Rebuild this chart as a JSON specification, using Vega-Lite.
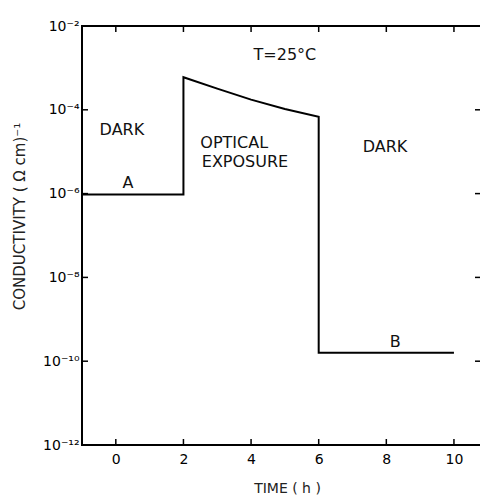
{
  "$schema": "https://vega.github.io/schema/vega-lite/v6.json",
  "autosize": "none",
  "width": 399,
  "height": 419,
  "padding": {"left": 82, "top": 26, "right": 0, "bottom": 53},
  "background": "white",
  "config": {
    "view": {"stroke": "black", "strokeWidth": 2},
    "font": "DejaVu Sans",
    "axis": {"labelColor": "black", "titleColor": "#222", "grid": false, "labelFont": "DejaVu Sans", "titleFont": "DejaVu Sans", "titleFontWeight": "normal"}
  },
  "datasets": {
    "curve": [
      {"i": 1, "time": -1, "sigma": 9.5e-7},
      {"i": 2, "time": 2, "sigma": 9.5e-7},
      {"i": 3, "time": 2, "sigma": 6e-4},
      {"i": 4, "time": 3, "sigma": 3.2e-4},
      {"i": 5, "time": 4, "sigma": 1.75e-4},
      {"i": 6, "time": 5, "sigma": 1.05e-4},
      {"i": 7, "time": 6, "sigma": 6.8e-5},
      {"i": 8, "time": 6, "sigma": 1.6e-10},
      {"i": 9, "time": 10, "sigma": 1.6e-10}
    ],
    "notes": [
      {"label": "DARK", "time": 0.18, "sigma": 3.3e-5},
      {"label": "A", "time": 0.36, "sigma": 1.8e-6},
      {"label": "OPTICAL", "time": 3.5, "sigma": 1.6e-5},
      {"label": "EXPOSURE", "time": 3.82, "sigma": 5.8e-6},
      {"label": "DARK", "time": 7.96, "sigma": 1.26e-5},
      {"label": "T=25°C", "time": 5.0, "sigma": 2.0e-3},
      {"label": "B", "time": 8.26, "sigma": 2.8e-10}
    ],
    "xticks": [{"time": 0}, {"time": 2}, {"time": 4}, {"time": 6}, {"time": 8}, {"time": 10}],
    "yticks": [{"sigma": 1e-10}, {"sigma": 1e-8}, {"sigma": 1e-6}, {"sigma": 1e-4}]
  },
  "layer": [
    {
      "data": {"name": "curve"},
      "mark": {"type": "line", "color": "black", "strokeWidth": 2, "clip": true},
      "encoding": {
        "x": {"field": "time", "type": "quantitative", "scale": {"domain": [-1, 10.8], "nice": false, "zero": false},
          "axis": {"orient": "bottom", "values": [0, 2, 4, 6, 8, 10], "domain": false, "ticks": false, "labelPadding": 7, "labelFontSize": 14, "title": "TIME ( h )", "titleFontSize": 14, "titleX": 205, "titleY": 43, "titleAlign": "center", "titleBaseline": "middle"}},
        "y": {"field": "sigma", "type": "quantitative", "scale": {"type": "log", "domain": [1e-12, 1e-2], "nice": false},
          "axis": {"orient": "left", "values": [1e-12, 1e-10, 1e-8, 1e-6, 1e-4, 1e-2], "domain": false, "ticks": false, "labelPadding": 3, "labelFontSize": 14,
            "labelExpr": "'10' + (datum.value < 5e-12 ? '⁻¹²' : datum.value < 5e-10 ? '⁻¹⁰' : datum.value < 5e-8 ? '⁻⁸' : datum.value < 5e-6 ? '⁻⁶' : datum.value < 5e-4 ? '⁻⁴' : '⁻²')",
            "title": "CONDUCTIVITY ( Ω cm)⁻¹", "titleFontSize": 15, "titleX": -63, "titleY": 190, "titleAngle": -90, "titleAlign": "center", "titleBaseline": "middle"}},
        "order": {"field": "i", "type": "quantitative"}
      }
    },
    {
      "data": {"name": "xticks"},
      "mark": {"type": "tick", "orient": "vertical", "size": 12, "thickness": 1.5, "color": "black", "opacity": 1, "clip": true},
      "encoding": {
        "x": {"field": "time", "type": "quantitative"},
        "y": {"datum": 1e-12}
      }
    },
    {
      "data": {"name": "xticks"},
      "mark": {"type": "tick", "orient": "vertical", "size": 12, "thickness": 1.5, "color": "black", "opacity": 1, "clip": true},
      "encoding": {
        "x": {"field": "time", "type": "quantitative"},
        "y": {"datum": 1e-2}
      }
    },
    {
      "data": {"name": "yticks"},
      "mark": {"type": "tick", "orient": "horizontal", "size": 12, "thickness": 1.5, "color": "black", "opacity": 1, "clip": true},
      "encoding": {
        "y": {"field": "sigma", "type": "quantitative"},
        "x": {"datum": -1}
      }
    },
    {
      "data": {"name": "yticks"},
      "mark": {"type": "tick", "orient": "horizontal", "size": 12, "thickness": 1.5, "color": "black", "opacity": 1, "clip": true},
      "encoding": {
        "y": {"field": "sigma", "type": "quantitative"},
        "x": {"datum": 10.8}
      }
    },
    {
      "data": {"name": "notes"},
      "mark": {"type": "text", "color": "#111", "fontSize": 16, "align": "center", "baseline": "middle", "font": "DejaVu Sans"},
      "encoding": {
        "x": {"field": "time", "type": "quantitative"},
        "y": {"field": "sigma", "type": "quantitative"},
        "text": {"field": "label", "type": "nominal"}
      }
    }
  ]
}
